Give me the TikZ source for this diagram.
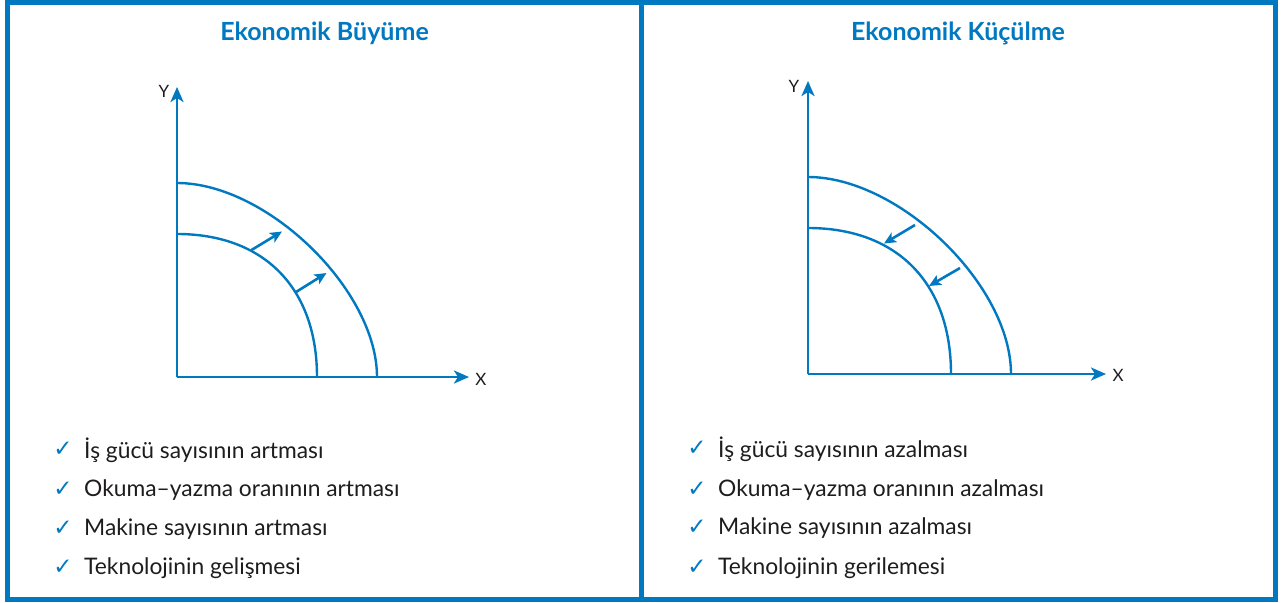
\documentclass[tikz,border=0pt]{standalone}
\usepackage{fontspec}
\setmainfont{Lato}
\newfontfamily\symfont{DejaVu Sans}
\usetikzlibrary{arrows.meta}
\definecolor{eblue}{RGB}{0,121,193}
\definecolor{etext}{RGB}{30,28,28}
\tikzset{
  frameline/.style={draw=eblue,line width=5pt},
  axisline/.style={draw=eblue,line width=2.8pt,-{Stealth[length=15pt,width=13pt,inset=4pt]}},
  curveline/.style={draw=eblue,line width=2.4pt},
  shiftarrow/.style={draw=eblue,line width=2.6pt,-{Stealth[length=12pt,width=11pt,inset=3pt]}},
  titletext/.style={text=eblue,font=\fontsize{25}{30}\selectfont\bfseries,inner sep=0pt},
  axislabel/.style={text=etext,font=\fontsize{17}{20}\selectfont,inner sep=0pt},
  itemtext/.style={text=etext,font=\fontsize{22.8}{27}\selectfont,inner sep=0pt,anchor=west},
  checkmark/.style={text=eblue,font=\symfont\fontsize{23}{26}\selectfont,inner sep=0pt}
}
\begin{document}
\begin{tikzpicture}[x=1pt,y=-1pt]
\useasboundingbox (0,0) rectangle (1284,602);
% frame
\draw[frameline] (7.5,2.5) rectangle (1275,599);
\draw[frameline] (641.5,2.5) -- (641.5,599);

% ---------- left panel ----------
\node[titletext] (t1) at (324.5,33) {Ekonomik Büyüme};
\coordinate (o1) at (177,377);
\coordinate (y1) at (177,87);
\coordinate (x1) at (469,377);
\draw[axisline] (o1) -- (y1);
\draw[axisline] (o1) -- (x1);
\node[axislabel] (ly1) at (164,91) {Y};
\node[axislabel] (lx1) at (481,379) {X};
\draw[curveline] (177,183) .. controls (267,183) and (377,290) .. (377,377);
\draw[curveline] (177,234) .. controls (264,234) and (317,288) .. (317,377);
\coordinate (a1s) at (251.5,250);
\coordinate (a1e) at (282,231.5);
\coordinate (a2s) at (296,292);
\coordinate (a2e) at (326.5,273);
\draw[shiftarrow] (a1s) -- (a1e);
\draw[shiftarrow] (a2s) -- (a2e);

\node[checkmark] (c11) at (63,449) {✓};
\node[checkmark] (c12) at (63,489) {✓};
\node[checkmark] (c13) at (63,528) {✓};
\node[checkmark] (c14) at (63,567) {✓};
\node[itemtext] (i11) at (84,450) {İş gücü sayısının artması};
\node[itemtext] (i12) at (84,490) {Okuma–yazma oranının artması};
\node[itemtext] (i13) at (84,529) {Makine sayısının artması};
\node[itemtext] (i14) at (84,568) {Teknolojinin gelişmesi};

% ---------- right panel ----------
\node[titletext] (t2) at (958,33) {Ekonomik Küçülme};
\coordinate (o2) at (808,374);
\coordinate (y2) at (808,81);
\coordinate (x2) at (1106,374);
\draw[axisline] (o2) -- (y2);
\draw[axisline] (o2) -- (x2);
\node[axislabel] (ly2) at (794,86) {Y};
\node[axislabel] (lx2) at (1118,375) {X};
\draw[curveline] (808,177) .. controls (899,177) and (1011,285) .. (1011,374);
\draw[curveline] (808,228) .. controls (897,228) and (951,283) .. (951,374);
\coordinate (b1s) at (915,225);
\coordinate (b1e) at (884,243.5);
\coordinate (b2s) at (960,268);
\coordinate (b2e) at (929,286);
\draw[shiftarrow] (b1s) -- (b1e);
\draw[shiftarrow] (b2s) -- (b2e);

\node[checkmark] (c21) at (697,448) {✓};
\node[checkmark] (c22) at (697,489) {✓};
\node[checkmark] (c23) at (697,527) {✓};
\node[checkmark] (c24) at (697,567) {✓};
\node[itemtext] (i21) at (718,449) {İş gücü sayısının azalması};
\node[itemtext] (i22) at (718,490) {Okuma–yazma oranının azalması};
\node[itemtext] (i23) at (718,528) {Makine sayısının azalması};
\node[itemtext] (i24) at (718,568) {Teknolojinin gerilemesi};
\end{tikzpicture}
\end{document}
